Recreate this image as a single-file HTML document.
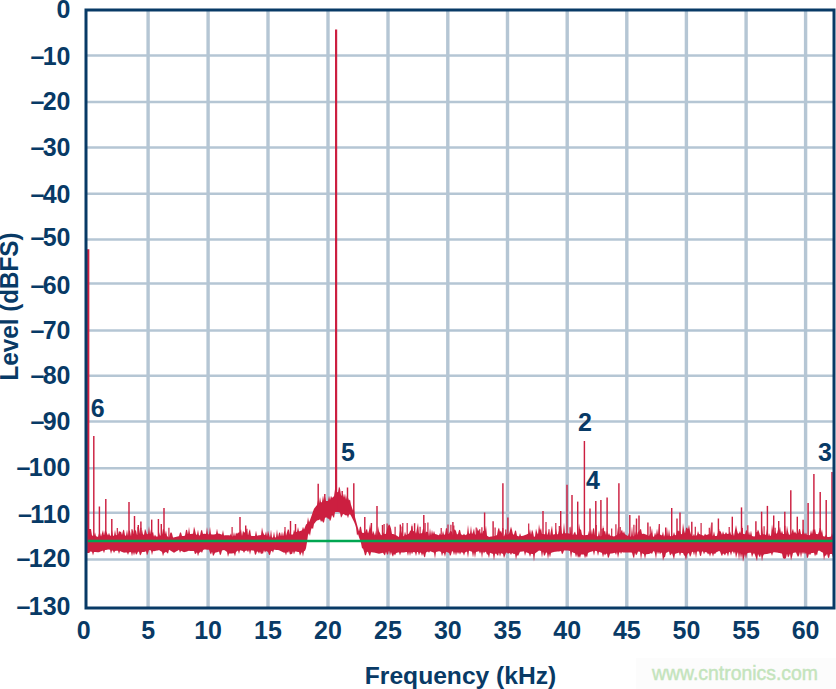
<!DOCTYPE html>
<html><head><meta charset="utf-8"><style>
html,body{margin:0;padding:0;background:#fff;}
svg{display:block;}
text{font-family:"Liberation Sans",sans-serif;}
</style></head><body>
<svg width="836" height="689" viewBox="0 0 836 689">
<rect width="836" height="689" fill="#fff"/>
<rect x="636" y="658" width="200" height="31" fill="#fcfcfc"/>
<line x1="148.1" y1="10" x2="148.1" y2="608" stroke="#b5c6d4" stroke-width="3.4"/>
<line x1="208.1" y1="10" x2="208.1" y2="608" stroke="#b5c6d4" stroke-width="3.4"/>
<line x1="268.0" y1="10" x2="268.0" y2="608" stroke="#b5c6d4" stroke-width="3.4"/>
<line x1="328.0" y1="10" x2="328.0" y2="608" stroke="#b5c6d4" stroke-width="3.4"/>
<line x1="388.0" y1="10" x2="388.0" y2="608" stroke="#b5c6d4" stroke-width="3.4"/>
<line x1="447.8" y1="10" x2="447.8" y2="608" stroke="#b5c6d4" stroke-width="3.4"/>
<line x1="507.5" y1="10" x2="507.5" y2="608" stroke="#b5c6d4" stroke-width="3.4"/>
<line x1="567.2" y1="10" x2="567.2" y2="608" stroke="#b5c6d4" stroke-width="3.4"/>
<line x1="626.8" y1="10" x2="626.8" y2="608" stroke="#b5c6d4" stroke-width="3.4"/>
<line x1="686.4" y1="10" x2="686.4" y2="608" stroke="#b5c6d4" stroke-width="3.4"/>
<line x1="746.1" y1="10" x2="746.1" y2="608" stroke="#b5c6d4" stroke-width="3.4"/>
<line x1="805.6" y1="10" x2="805.6" y2="608" stroke="#b5c6d4" stroke-width="3.4"/>
<line x1="86" y1="55.5" x2="834" y2="55.5" stroke="#b5c6d4" stroke-width="2.5"/>
<line x1="86" y1="102.1" x2="834" y2="102.1" stroke="#b5c6d4" stroke-width="2.5"/>
<line x1="86" y1="147.4" x2="834" y2="147.4" stroke="#b5c6d4" stroke-width="2.5"/>
<line x1="86" y1="193.8" x2="834" y2="193.8" stroke="#b5c6d4" stroke-width="2.5"/>
<line x1="86" y1="239.6" x2="834" y2="239.6" stroke="#b5c6d4" stroke-width="2.5"/>
<line x1="86" y1="283.4" x2="834" y2="283.4" stroke="#b5c6d4" stroke-width="2.5"/>
<line x1="86" y1="330.5" x2="834" y2="330.5" stroke="#b5c6d4" stroke-width="2.5"/>
<line x1="86" y1="375.8" x2="834" y2="375.8" stroke="#b5c6d4" stroke-width="2.5"/>
<line x1="86" y1="421.5" x2="834" y2="421.5" stroke="#b5c6d4" stroke-width="2.5"/>
<line x1="86" y1="468.3" x2="834" y2="468.3" stroke="#b5c6d4" stroke-width="2.5"/>
<line x1="86" y1="512.7" x2="834" y2="512.7" stroke="#b5c6d4" stroke-width="2.5"/>
<line x1="86" y1="559.4" x2="834" y2="559.4" stroke="#b5c6d4" stroke-width="2.5"/>
<g id="data"><polygon points="89.0,529.0 90.0,529.0 91.0,529.0 92.0,535.6 93.0,535.7 94.0,535.7 95.0,532.2 96.0,536.3 97.0,536.6 98.0,536.9 99.0,533.3 100.0,532.7 101.0,536.5 102.0,533.2 103.0,530.1 104.0,535.4 105.0,530.2 106.0,531.0 107.0,533.5 108.0,535.5 109.0,532.7 110.0,535.6 111.0,535.7 112.0,529.9 113.0,535.8 114.0,535.8 115.0,529.8 116.0,535.2 117.0,534.9 118.0,534.6 119.0,530.8 120.0,531.9 121.0,531.6 122.0,535.0 123.0,530.6 124.0,529.6 125.0,535.6 126.0,535.7 127.0,529.4 128.0,535.9 129.0,530.1 130.0,531.2 131.0,536.3 132.0,531.3 133.0,529.8 134.0,534.5 135.0,530.3 136.0,530.5 137.0,535.0 138.0,534.4 139.0,527.8 140.0,534.0 141.0,534.2 142.0,529.4 143.0,534.5 144.0,534.7 145.0,528.8 146.0,531.0 147.0,534.2 148.0,534.0 149.0,526.1 150.0,534.4 151.0,529.1 152.0,533.3 153.0,531.4 154.0,536.7 155.0,534.5 156.0,536.6 157.0,536.5 158.0,536.4 159.0,531.9 160.0,535.8 161.0,535.2 162.0,534.7 163.0,528.5 164.0,529.7 165.0,534.4 166.0,530.2 167.0,535.9 168.0,536.7 169.0,537.4 170.0,533.7 171.0,532.0 172.0,533.6 173.0,537.4 174.0,537.4 175.0,537.1 176.0,536.9 177.0,536.6 178.0,536.4 179.0,536.1 180.0,532.5 181.0,532.5 182.0,536.0 183.0,536.0 184.0,536.0 185.0,535.6 186.0,530.0 187.0,529.7 188.0,534.5 189.0,526.8 190.0,534.0 191.0,533.9 192.0,533.8 193.0,533.7 194.0,526.4 195.0,530.0 196.0,534.4 197.0,534.8 198.0,529.4 199.0,535.6 200.0,535.2 201.0,530.7 202.0,529.8 203.0,534.1 204.0,533.7 205.0,533.8 206.0,533.9 207.0,527.1 208.0,534.2 209.0,534.3 210.0,526.8 211.0,534.3 212.0,534.4 213.0,534.4 214.0,534.5 215.0,534.3 216.0,534.1 217.0,528.6 218.0,533.8 219.0,533.6 220.0,534.0 221.0,534.3 222.0,534.7 223.0,529.9 224.0,535.4 225.0,535.3 226.0,535.3 227.0,535.3 228.0,535.3 229.0,535.3 230.0,535.6 231.0,533.3 232.0,536.2 233.0,536.5 234.0,532.1 235.0,536.6 236.0,532.5 237.0,533.9 238.0,532.6 239.0,532.8 240.0,531.8 241.0,528.9 242.0,535.9 243.0,530.4 244.0,532.4 245.0,532.3 246.0,530.5 247.0,530.6 248.0,535.6 249.0,531.3 250.0,528.9 251.0,535.8 252.0,535.9 253.0,536.0 254.0,536.1 255.0,536.0 256.0,530.4 257.0,535.7 258.0,535.5 259.0,535.3 260.0,535.2 261.0,535.0 262.0,527.2 263.0,532.3 264.0,534.6 265.0,535.2 266.0,531.2 267.0,536.3 268.0,530.6 269.0,534.3 270.0,537.5 271.0,529.6 272.0,537.5 273.0,537.5 274.0,531.6 275.0,537.4 276.0,537.2 277.0,529.2 278.0,537.0 279.0,533.0 280.0,532.3 281.0,536.6 282.0,531.4 283.0,536.4 284.0,532.2 285.0,530.3 286.0,535.7 287.0,532.3 288.0,529.1 289.0,530.3 290.0,534.7 291.0,534.6 292.0,534.6 293.0,534.5 294.0,529.4 295.0,532.2 296.0,532.0 297.0,531.8 298.0,527.0 299.0,531.4 300.0,531.1 301.0,530.7 302.0,530.3 303.0,526.7 304.0,529.6 305.0,527.1 306.0,524.5 307.0,523.8 308.0,517.1 309.0,522.3 310.0,520.1 311.0,517.2 312.0,514.4 313.0,511.5 314.0,508.7 315.0,507.5 316.0,506.3 317.0,505.1 318.0,500.3 319.0,503.6 320.0,496.9 321.0,502.5 322.0,501.9 323.0,495.5 324.0,500.8 325.0,496.5 326.0,500.9 327.0,501.0 328.0,501.0 329.0,495.8 330.0,499.9 331.0,495.8 332.0,498.0 333.0,497.1 334.0,496.2 335.0,489.2 336.0,493.5 337.0,492.1 338.0,492.3 339.0,486.5 340.0,488.6 341.0,494.9 342.0,495.9 343.0,493.5 344.0,497.7 345.0,493.6 346.0,499.7 347.0,495.1 348.0,497.8 349.0,500.5 350.0,499.6 351.0,504.8 352.0,507.7 353.0,510.5 354.0,509.2 355.0,516.9 356.0,520.7 357.0,524.4 358.0,528.1 359.0,531.6 360.0,526.4 361.0,527.1 362.0,532.6 363.0,532.9 364.0,532.7 365.0,532.5 366.0,529.9 367.0,528.8 368.0,533.6 369.0,530.4 370.0,524.1 371.0,529.3 372.0,534.6 373.0,530.4 374.0,533.0 375.0,535.6 376.0,530.2 377.0,535.9 378.0,526.0 379.0,531.2 380.0,533.1 381.0,535.3 382.0,534.9 383.0,532.0 384.0,534.1 385.0,533.9 386.0,533.8 387.0,529.1 388.0,526.3 389.0,524.3 390.0,525.6 391.0,528.4 392.0,533.9 393.0,534.1 394.0,534.3 395.0,534.8 396.0,535.3 397.0,535.8 398.0,536.4 399.0,536.9 400.0,530.2 401.0,533.7 402.0,530.8 403.0,536.2 404.0,536.0 405.0,531.6 406.0,535.0 407.0,534.5 408.0,534.0 409.0,533.5 410.0,531.0 411.0,530.2 412.0,523.4 413.0,530.9 414.0,531.3 415.0,530.9 416.0,533.8 417.0,527.9 418.0,522.8 419.0,533.4 420.0,533.4 421.0,533.3 422.0,533.3 423.0,528.6 424.0,528.5 425.0,533.8 426.0,531.6 427.0,532.1 428.0,532.0 429.0,536.2 430.0,528.1 431.0,535.2 432.0,529.8 433.0,534.2 434.0,530.7 435.0,534.0 436.0,534.3 437.0,534.6 438.0,534.9 439.0,535.2 440.0,532.9 441.0,535.1 442.0,535.0 443.0,530.7 444.0,534.8 445.0,534.6 446.0,527.9 447.0,528.6 448.0,534.0 449.0,533.8 450.0,531.2 451.0,531.0 452.0,532.0 453.0,535.5 454.0,529.7 455.0,529.6 456.0,530.9 457.0,534.5 458.0,534.0 459.0,530.3 460.0,529.8 461.0,534.3 462.0,534.8 463.0,535.2 464.0,533.5 465.0,535.2 466.0,534.7 467.0,534.3 468.0,524.8 469.0,533.5 470.0,533.7 471.0,525.7 472.0,534.2 473.0,532.0 474.0,528.2 475.0,534.5 476.0,534.4 477.0,527.5 478.0,531.0 479.0,530.1 480.0,533.9 481.0,531.7 482.0,534.0 483.0,531.2 484.0,530.6 485.0,531.0 486.0,525.4 487.0,535.8 488.0,536.3 489.0,536.9 490.0,536.7 491.0,536.6 492.0,536.5 493.0,536.3 494.0,536.2 495.0,535.8 496.0,535.4 497.0,535.0 498.0,529.4 499.0,527.6 500.0,532.0 501.0,530.4 502.0,533.4 503.0,536.1 504.0,536.5 505.0,533.8 506.0,532.0 507.0,534.9 508.0,534.4 509.0,533.8 510.0,530.3 511.0,526.5 512.0,529.9 513.0,534.4 514.0,534.6 515.0,530.8 516.0,530.5 517.0,535.7 518.0,536.0 519.0,536.4 520.0,533.0 521.0,536.1 522.0,535.9 523.0,535.7 524.0,535.6 525.0,535.1 526.0,534.7 527.0,534.3 528.0,533.8 529.0,533.4 530.0,528.9 531.0,534.8 532.0,529.6 533.0,531.9 534.0,537.0 535.0,536.3 536.0,528.6 537.0,532.3 538.0,534.5 539.0,524.1 540.0,530.5 541.0,528.0 542.0,534.0 543.0,534.0 544.0,534.0 545.0,534.4 546.0,529.5 547.0,535.3 548.0,533.0 549.0,531.2 550.0,535.7 551.0,530.2 552.0,525.6 553.0,534.7 554.0,534.3 555.0,534.3 556.0,528.2 557.0,534.2 558.0,534.2 559.0,530.6 560.0,527.9 561.0,525.9 562.0,533.7 563.0,533.5 564.0,522.4 565.0,533.3 566.0,533.3 567.0,533.3 568.0,533.3 569.0,533.4 570.0,533.8 571.0,525.2 572.0,534.5 573.0,534.9 574.0,533.0 575.0,531.6 576.0,534.8 577.0,534.5 578.0,534.2 579.0,523.3 580.0,529.4 581.0,529.5 582.0,534.8 583.0,535.1 584.0,535.4 585.0,535.2 586.0,535.0 587.0,534.9 588.0,534.7 589.0,530.4 590.0,534.6 591.0,528.7 592.0,534.7 593.0,528.7 594.0,527.9 595.0,535.2 596.0,535.6 597.0,536.0 598.0,536.4 599.0,530.3 600.0,536.5 601.0,536.1 602.0,535.7 603.0,524.9 604.0,531.7 605.0,530.5 606.0,535.1 607.0,530.6 608.0,535.2 609.0,533.0 610.0,535.5 611.0,535.8 612.0,536.0 613.0,536.2 614.0,536.5 615.0,535.9 616.0,535.4 617.0,534.8 618.0,526.9 619.0,533.7 620.0,533.7 621.0,531.6 622.0,529.4 623.0,533.6 624.0,530.9 625.0,534.2 626.0,534.8 627.0,535.4 628.0,536.0 629.0,532.7 630.0,536.6 631.0,536.5 632.0,526.2 633.0,536.3 634.0,536.3 635.0,531.0 636.0,535.4 637.0,534.9 638.0,531.7 639.0,531.6 640.0,529.5 641.0,528.9 642.0,533.9 643.0,533.8 644.0,533.8 645.0,534.2 646.0,534.6 647.0,535.1 648.0,535.5 649.0,536.0 650.0,533.7 651.0,533.5 652.0,528.1 653.0,536.6 654.0,536.8 655.0,532.6 656.0,535.6 657.0,528.4 658.0,534.4 659.0,524.4 660.0,534.4 661.0,535.0 662.0,535.6 663.0,531.2 664.0,536.8 665.0,534.3 666.0,536.7 667.0,527.0 668.0,536.6 669.0,529.1 670.0,536.3 671.0,536.1 672.0,535.9 673.0,535.6 674.0,532.1 675.0,535.3 676.0,535.1 677.0,531.3 678.0,530.2 679.0,531.6 680.0,530.5 681.0,534.2 682.0,533.9 683.0,523.0 684.0,530.0 685.0,533.4 686.0,528.2 687.0,527.2 688.0,529.4 689.0,524.6 690.0,531.0 691.0,534.6 692.0,535.4 693.0,536.1 694.0,533.7 695.0,536.3 696.0,535.7 697.0,535.1 698.0,531.0 699.0,534.0 700.0,534.3 701.0,534.7 702.0,535.1 703.0,535.4 704.0,535.8 705.0,533.4 706.0,535.1 707.0,534.7 708.0,534.4 709.0,534.0 710.0,534.5 711.0,523.9 712.0,535.4 713.0,535.8 714.0,531.2 715.0,536.1 716.0,535.9 717.0,535.7 718.0,531.9 719.0,531.5 720.0,530.5 721.0,532.2 722.0,534.7 723.0,530.9 724.0,534.2 725.0,534.1 726.0,531.9 727.0,533.9 728.0,533.8 729.0,533.7 730.0,531.2 731.0,534.6 732.0,535.0 733.0,532.7 734.0,535.9 735.0,530.3 736.0,525.0 737.0,530.2 738.0,533.8 739.0,533.3 740.0,531.0 741.0,533.5 742.0,525.8 743.0,533.8 744.0,533.9 745.0,534.2 746.0,530.2 747.0,530.5 748.0,535.0 749.0,531.3 750.0,535.5 751.0,530.6 752.0,535.9 753.0,536.2 754.0,536.4 755.0,536.2 756.0,532.0 757.0,532.3 758.0,529.5 759.0,531.7 760.0,535.2 761.0,534.9 762.0,526.0 763.0,534.4 764.0,534.1 765.0,534.6 766.0,535.1 767.0,528.8 768.0,536.2 769.0,532.9 770.0,536.1 771.0,535.5 772.0,524.3 773.0,530.2 774.0,533.8 775.0,530.3 776.0,533.5 777.0,533.4 778.0,529.4 779.0,530.7 780.0,526.5 781.0,533.5 782.0,530.6 783.0,533.9 784.0,534.1 785.0,528.9 786.0,534.4 787.0,525.4 788.0,531.6 789.0,534.8 790.0,534.5 791.0,534.2 792.0,531.3 793.0,528.6 794.0,533.2 795.0,531.2 796.0,533.4 797.0,533.5 798.0,533.6 799.0,529.3 800.0,529.0 801.0,534.0 802.0,534.2 803.0,528.5 804.0,532.2 805.0,534.6 806.0,532.5 807.0,535.0 808.0,535.1 809.0,535.3 810.0,534.9 811.0,530.0 812.0,534.2 813.0,528.9 814.0,530.3 815.0,528.7 816.0,533.9 817.0,534.1 818.0,534.3 819.0,531.6 820.0,529.1 821.0,532.9 822.0,529.3 823.0,536.1 824.0,536.6 825.0,536.6 826.0,534.2 827.0,536.8 828.0,536.9 829.0,536.9 830.0,536.7 831.0,536.4 832.0,533.1 833.0,535.9 833.0,557.6 832.0,553.9 831.0,553.9 830.0,554.0 829.0,558.2 828.0,557.4 827.0,553.8 826.0,555.7 825.0,555.4 824.0,560.4 823.0,552.8 822.0,552.2 821.0,551.7 820.0,551.1 819.0,550.6 818.0,551.0 817.0,555.6 816.0,554.1 815.0,556.4 814.0,552.8 813.0,552.9 812.0,553.0 811.0,553.2 810.0,555.2 809.0,553.4 808.0,557.6 807.0,557.9 806.0,552.6 805.0,554.5 804.0,552.0 803.0,554.3 802.0,551.9 801.0,558.0 800.0,551.9 799.0,555.4 798.0,557.0 797.0,555.0 796.0,552.4 795.0,552.6 794.0,552.8 793.0,553.0 792.0,557.1 791.0,560.4 790.0,553.5 789.0,556.2 788.0,557.4 787.0,553.8 786.0,557.8 785.0,559.0 784.0,558.6 783.0,558.2 782.0,553.6 781.0,553.4 780.0,553.1 779.0,552.9 778.0,552.7 777.0,552.6 776.0,552.4 775.0,552.3 774.0,552.2 773.0,552.4 772.0,555.9 771.0,553.0 770.0,553.3 769.0,553.5 768.0,553.7 767.0,553.9 766.0,554.0 765.0,554.2 764.0,554.3 763.0,555.9 762.0,561.5 761.0,554.2 760.0,557.6 759.0,556.0 758.0,553.9 757.0,561.2 756.0,557.9 755.0,554.9 754.0,553.0 753.0,554.5 752.0,557.2 751.0,552.8 750.0,552.8 749.0,552.7 748.0,553.1 747.0,553.4 746.0,559.1 745.0,554.1 744.0,557.7 743.0,561.9 742.0,553.5 741.0,559.0 740.0,552.7 739.0,560.2 738.0,552.1 737.0,554.2 736.0,558.2 735.0,551.6 734.0,553.9 733.0,551.6 732.0,551.8 731.0,555.8 730.0,552.0 729.0,552.2 728.0,556.7 727.0,552.9 726.0,553.3 725.0,555.6 724.0,554.0 723.0,553.4 722.0,556.3 721.0,554.2 720.0,551.6 719.0,551.0 718.0,551.5 717.0,551.9 716.0,552.4 715.0,554.3 714.0,553.3 713.0,556.7 712.0,553.3 711.0,553.3 710.0,556.8 709.0,553.2 708.0,554.6 707.0,552.5 706.0,552.2 705.0,551.9 704.0,554.6 703.0,551.5 702.0,551.6 701.0,555.9 700.0,555.7 699.0,551.6 698.0,551.6 697.0,551.5 696.0,558.2 695.0,551.4 694.0,555.6 693.0,551.7 692.0,552.1 691.0,555.2 690.0,556.9 689.0,553.3 688.0,553.3 687.0,555.2 686.0,560.5 685.0,555.9 684.0,555.3 683.0,553.1 682.0,553.0 681.0,552.8 680.0,556.2 679.0,552.6 678.0,552.9 677.0,553.2 676.0,553.6 675.0,553.9 674.0,559.5 673.0,556.3 672.0,553.2 671.0,554.4 670.0,555.5 669.0,551.6 668.0,552.1 667.0,552.6 666.0,553.0 665.0,556.9 664.0,557.4 663.0,560.8 662.0,553.1 661.0,552.6 660.0,554.5 659.0,551.7 658.0,554.2 657.0,551.5 656.0,559.2 655.0,553.4 654.0,551.1 653.0,551.7 652.0,554.0 651.0,552.9 650.0,553.5 649.0,554.1 648.0,554.1 647.0,554.2 646.0,554.2 645.0,559.3 644.0,554.3 643.0,553.7 642.0,553.2 641.0,559.7 640.0,552.1 639.0,551.6 638.0,551.8 637.0,554.3 636.0,555.2 635.0,552.7 634.0,558.6 633.0,556.5 632.0,552.8 631.0,552.6 630.0,552.5 629.0,552.4 628.0,552.4 627.0,552.5 626.0,552.5 625.0,552.6 624.0,552.6 623.0,552.4 622.0,552.1 621.0,554.0 620.0,551.7 619.0,553.2 618.0,558.3 617.0,552.1 616.0,554.9 615.0,552.7 614.0,553.1 613.0,553.2 612.0,553.4 611.0,553.5 610.0,553.7 609.0,557.0 608.0,558.3 607.0,553.8 606.0,553.7 605.0,555.4 604.0,553.6 603.0,557.5 602.0,552.9 601.0,552.5 600.0,552.2 599.0,551.8 598.0,556.0 597.0,551.3 596.0,551.1 595.0,550.8 594.0,555.8 593.0,551.0 592.0,551.4 591.0,551.7 590.0,552.1 589.0,552.5 588.0,552.9 587.0,557.7 586.0,555.4 585.0,558.6 584.0,554.5 583.0,554.5 582.0,554.5 581.0,554.5 580.0,557.9 579.0,556.1 578.0,558.1 577.0,553.9 576.0,557.6 575.0,553.3 574.0,553.0 573.0,552.5 572.0,552.0 571.0,558.8 570.0,551.1 569.0,550.7 568.0,550.6 567.0,550.6 566.0,550.6 565.0,550.6 564.0,550.5 563.0,553.3 562.0,554.2 561.0,551.1 560.0,551.3 559.0,551.5 558.0,551.5 557.0,551.6 556.0,551.7 555.0,551.8 554.0,551.9 553.0,552.2 552.0,552.6 551.0,552.9 550.0,557.4 549.0,553.6 548.0,559.3 547.0,552.8 546.0,552.4 545.0,555.2 544.0,555.7 543.0,551.4 542.0,557.7 541.0,550.9 540.0,550.7 539.0,550.5 538.0,551.3 537.0,552.0 536.0,552.7 535.0,553.4 534.0,561.8 533.0,554.0 532.0,553.9 531.0,553.8 530.0,557.1 529.0,553.5 528.0,553.0 527.0,552.6 526.0,552.2 525.0,555.9 524.0,551.3 523.0,551.4 522.0,551.5 521.0,551.7 520.0,551.8 519.0,554.1 518.0,555.9 517.0,554.9 516.0,560.0 515.0,553.7 514.0,554.2 513.0,553.6 512.0,553.0 511.0,554.9 510.0,553.3 509.0,553.1 508.0,554.1 507.0,552.4 506.0,553.1 505.0,555.5 504.0,558.2 503.0,553.9 502.0,553.6 501.0,553.2 500.0,556.7 499.0,552.4 498.0,555.9 497.0,554.7 496.0,553.6 495.0,554.0 494.0,560.6 493.0,553.9 492.0,553.6 491.0,553.2 490.0,552.8 489.0,558.3 488.0,554.5 487.0,554.4 486.0,551.9 485.0,551.8 484.0,553.5 483.0,551.6 482.0,558.3 481.0,551.5 480.0,553.7 479.0,551.3 478.0,551.5 477.0,551.7 476.0,551.9 475.0,558.1 474.0,552.3 473.0,557.4 472.0,551.7 471.0,551.4 470.0,551.0 469.0,550.7 468.0,557.9 467.0,551.6 466.0,552.1 465.0,552.6 464.0,555.8 463.0,552.8 462.0,552.6 461.0,552.3 460.0,554.8 459.0,551.9 458.0,553.9 457.0,551.8 456.0,555.8 455.0,551.7 454.0,555.3 453.0,551.4 452.0,551.2 451.0,554.7 450.0,555.9 449.0,552.8 448.0,552.8 447.0,551.7 446.0,552.2 445.0,556.9 444.0,553.3 443.0,552.9 442.0,556.2 441.0,552.0 440.0,551.6 439.0,551.2 438.0,551.5 437.0,551.8 436.0,552.1 435.0,558.8 434.0,552.7 433.0,552.3 432.0,552.0 431.0,551.6 430.0,551.3 429.0,552.8 428.0,551.4 427.0,552.0 426.0,552.5 425.0,557.5 424.0,556.4 423.0,553.3 422.0,556.1 421.0,552.7 420.0,552.4 419.0,555.6 418.0,552.1 417.0,552.1 416.0,556.2 415.0,552.2 414.0,552.2 413.0,552.0 412.0,554.2 411.0,551.7 410.0,556.0 409.0,551.4 408.0,556.1 407.0,551.9 406.0,552.1 405.0,552.3 404.0,552.6 403.0,552.5 402.0,552.4 401.0,552.4 400.0,555.6 399.0,552.2 398.0,552.5 397.0,552.8 396.0,553.2 395.0,555.5 394.0,553.8 393.0,556.8 392.0,555.1 391.0,551.9 390.0,555.7 389.0,550.6 388.0,554.6 387.0,554.4 386.0,551.7 385.0,555.4 384.0,554.4 383.0,552.7 382.0,553.0 381.0,553.2 380.0,553.5 379.0,553.7 378.0,553.5 377.0,553.3 376.0,553.0 375.0,552.8 374.0,552.5 373.0,552.4 372.0,552.3 371.0,552.2 370.0,556.3 369.0,554.6 368.0,551.9 367.0,551.7 366.0,555.0 365.0,555.6 364.0,551.4 363.0,548.6 362.0,548.2 361.0,542.9 360.0,540.1 359.0,537.2 358.0,534.1 357.0,535.5 356.0,527.6 355.0,524.3 354.0,521.8 353.0,519.8 352.0,517.8 351.0,515.8 350.0,514.3 349.0,514.7 348.0,518.3 347.0,515.2 346.0,515.4 345.0,515.0 344.0,514.3 343.0,513.9 342.0,516.3 341.0,517.7 340.0,512.7 339.0,512.3 338.0,512.1 337.0,511.9 336.0,511.7 335.0,512.3 334.0,518.1 333.0,516.8 332.0,515.1 331.0,519.3 330.0,521.2 329.0,518.6 328.0,519.0 327.0,517.5 326.0,517.6 325.0,517.7 324.0,522.5 323.0,522.6 322.0,520.6 321.0,522.1 320.0,519.3 319.0,519.9 318.0,520.2 317.0,520.5 316.0,521.5 315.0,522.8 314.0,524.0 313.0,529.2 312.0,527.8 311.0,529.7 310.0,535.9 309.0,533.3 308.0,534.9 307.0,542.2 306.0,548.2 305.0,550.7 304.0,551.3 303.0,556.7 302.0,552.0 301.0,553.5 300.0,555.7 299.0,552.1 298.0,551.9 297.0,551.7 296.0,551.5 295.0,551.4 294.0,554.4 293.0,551.2 292.0,554.3 291.0,553.7 290.0,554.7 289.0,551.1 288.0,553.1 287.0,551.8 286.0,555.5 285.0,552.4 284.0,552.8 283.0,552.2 282.0,551.7 281.0,551.2 280.0,550.7 279.0,550.2 278.0,550.1 277.0,550.0 276.0,549.9 275.0,549.8 274.0,549.7 273.0,552.7 272.0,550.7 271.0,551.3 270.0,555.0 269.0,554.7 268.0,551.9 267.0,551.4 266.0,551.0 265.0,552.7 264.0,550.2 263.0,553.7 262.0,553.2 261.0,554.3 260.0,551.6 259.0,553.7 258.0,551.7 257.0,551.5 256.0,554.4 255.0,554.7 254.0,550.8 253.0,550.6 252.0,550.5 251.0,550.3 250.0,554.7 249.0,550.0 248.0,552.3 247.0,550.5 246.0,550.7 245.0,551.0 244.0,552.9 243.0,550.9 242.0,550.7 241.0,550.4 240.0,550.2 239.0,554.0 238.0,550.6 237.0,551.3 236.0,552.0 235.0,556.5 234.0,553.3 233.0,553.3 232.0,553.4 231.0,553.4 230.0,553.4 229.0,553.4 228.0,557.1 227.0,552.0 226.0,551.3 225.0,550.6 224.0,549.9 223.0,550.2 222.0,550.5 221.0,554.2 220.0,555.2 219.0,551.5 218.0,551.9 217.0,552.2 216.0,552.5 215.0,552.8 214.0,555.0 213.0,555.9 212.0,551.8 211.0,554.5 210.0,553.0 209.0,549.7 208.0,549.7 207.0,549.7 206.0,549.6 205.0,549.6 204.0,549.6 203.0,550.2 202.0,553.0 201.0,551.6 200.0,552.2 199.0,552.9 198.0,556.2 197.0,552.2 196.0,553.4 195.0,554.3 194.0,551.1 193.0,551.1 192.0,551.0 191.0,551.0 190.0,550.9 189.0,550.8 188.0,551.1 187.0,551.4 186.0,551.7 185.0,552.0 184.0,552.2 183.0,551.8 182.0,551.3 181.0,550.8 180.0,552.9 179.0,549.8 178.0,550.4 177.0,551.0 176.0,551.6 175.0,552.2 174.0,552.8 173.0,552.2 172.0,551.6 171.0,551.0 170.0,550.3 169.0,549.7 168.0,553.7 167.0,552.7 166.0,551.8 165.0,552.4 164.0,553.1 163.0,556.3 162.0,551.9 161.0,551.3 160.0,550.7 159.0,550.1 158.0,550.4 157.0,550.6 156.0,550.8 155.0,551.0 154.0,551.3 153.0,551.0 152.0,555.2 151.0,550.6 150.0,550.3 149.0,550.1 148.0,553.3 147.0,555.4 146.0,551.3 145.0,551.7 144.0,552.1 143.0,552.1 142.0,552.0 141.0,554.4 140.0,555.6 139.0,551.7 138.0,551.8 137.0,553.9 136.0,554.8 135.0,551.9 134.0,555.4 133.0,552.0 132.0,556.2 131.0,552.1 130.0,552.2 129.0,552.3 128.0,554.9 127.0,552.5 126.0,552.5 125.0,552.6 124.0,552.7 123.0,552.3 122.0,551.9 121.0,551.5 120.0,551.0 119.0,554.1 118.0,550.7 117.0,550.8 116.0,550.8 115.0,550.9 114.0,553.1 113.0,550.7 112.0,550.4 111.0,554.0 110.0,549.8 109.0,549.5 108.0,549.6 107.0,549.8 106.0,549.9 105.0,550.0 104.0,553.2 103.0,550.5 102.0,550.9 101.0,551.3 100.0,551.7 99.0,552.2 98.0,552.2 97.0,552.2 96.0,552.1 95.0,552.1 94.0,552.1 93.0,555.5 92.0,551.8 91.0,551.7 90.0,551.5 89.0,553.0" fill="#cc1f40"/>
<line x1="117.3" y1="527.9" x2="117.3" y2="538.2" stroke="#cc1f40" stroke-width="1.2"/>
<line x1="132.0" y1="529.3" x2="132.0" y2="539.3" stroke="#cc1f40" stroke-width="1.2"/>
<line x1="138.0" y1="526.9" x2="138.0" y2="538.0" stroke="#cc1f40" stroke-width="1.2"/>
<line x1="140.9" y1="527.8" x2="140.9" y2="537.2" stroke="#cc1f40" stroke-width="1.2"/>
<line x1="168.9" y1="527.8" x2="168.9" y2="540.4" stroke="#cc1f40" stroke-width="1.2"/>
<line x1="232.1" y1="527.0" x2="232.1" y2="539.5" stroke="#cc1f40" stroke-width="1.2"/>
<line x1="246.9" y1="528.7" x2="246.9" y2="538.6" stroke="#cc1f40" stroke-width="1.2"/>
<line x1="285.0" y1="526.9" x2="285.0" y2="538.7" stroke="#cc1f40" stroke-width="1.2"/>
<line x1="384.1" y1="524.1" x2="384.1" y2="537.1" stroke="#cc1f40" stroke-width="1.2"/>
<line x1="387.1" y1="523.4" x2="387.1" y2="536.8" stroke="#cc1f40" stroke-width="1.2"/>
<line x1="395.1" y1="526.8" x2="395.1" y2="538.3" stroke="#cc1f40" stroke-width="1.2"/>
<line x1="402.1" y1="526.5" x2="402.1" y2="539.2" stroke="#cc1f40" stroke-width="1.2"/>
<line x1="402.8" y1="523.1" x2="402.8" y2="539.2" stroke="#cc1f40" stroke-width="1.2"/>
<line x1="407.2" y1="523.0" x2="407.2" y2="538.0" stroke="#cc1f40" stroke-width="1.2"/>
<line x1="411.9" y1="526.3" x2="411.9" y2="533.9" stroke="#cc1f40" stroke-width="1.2"/>
<line x1="420.1" y1="526.7" x2="420.1" y2="536.4" stroke="#cc1f40" stroke-width="1.2"/>
<line x1="425.1" y1="523.0" x2="425.1" y2="536.8" stroke="#cc1f40" stroke-width="1.2"/>
<line x1="427.9" y1="522.6" x2="427.9" y2="539.2" stroke="#cc1f40" stroke-width="1.2"/>
<line x1="441.2" y1="527.9" x2="441.2" y2="538.1" stroke="#cc1f40" stroke-width="1.2"/>
<line x1="448.0" y1="524.4" x2="448.0" y2="537.0" stroke="#cc1f40" stroke-width="1.2"/>
<line x1="450.9" y1="524.8" x2="450.9" y2="535.0" stroke="#cc1f40" stroke-width="1.2"/>
<line x1="453.8" y1="525.5" x2="453.8" y2="538.5" stroke="#cc1f40" stroke-width="1.2"/>
<line x1="476.2" y1="527.5" x2="476.2" y2="537.5" stroke="#cc1f40" stroke-width="1.2"/>
<line x1="479.7" y1="529.2" x2="479.7" y2="536.9" stroke="#cc1f40" stroke-width="1.2"/>
<line x1="481.9" y1="527.2" x2="481.9" y2="537.0" stroke="#cc1f40" stroke-width="1.2"/>
<line x1="495.1" y1="527.6" x2="495.1" y2="539.2" stroke="#cc1f40" stroke-width="1.2"/>
<line x1="502.8" y1="528.1" x2="502.8" y2="539.5" stroke="#cc1f40" stroke-width="1.2"/>
<line x1="505.8" y1="529.5" x2="505.8" y2="537.9" stroke="#cc1f40" stroke-width="1.2"/>
<line x1="528.7" y1="523.6" x2="528.7" y2="536.8" stroke="#cc1f40" stroke-width="1.2"/>
<line x1="546.0" y1="522.1" x2="546.0" y2="538.3" stroke="#cc1f40" stroke-width="1.2"/>
<line x1="549.0" y1="529.3" x2="549.0" y2="538.7" stroke="#cc1f40" stroke-width="1.2"/>
<line x1="555.8" y1="523.1" x2="555.8" y2="537.3" stroke="#cc1f40" stroke-width="1.2"/>
<line x1="559.3" y1="526.1" x2="559.3" y2="537.2" stroke="#cc1f40" stroke-width="1.2"/>
<line x1="570.0" y1="527.3" x2="570.0" y2="536.8" stroke="#cc1f40" stroke-width="1.2"/>
<line x1="596.2" y1="525.1" x2="596.2" y2="539.0" stroke="#cc1f40" stroke-width="1.2"/>
<line x1="602.0" y1="528.8" x2="602.0" y2="539.1" stroke="#cc1f40" stroke-width="1.2"/>
<line x1="603.3" y1="527.9" x2="603.3" y2="538.7" stroke="#cc1f40" stroke-width="1.2"/>
<line x1="611.7" y1="528.6" x2="611.7" y2="539.2" stroke="#cc1f40" stroke-width="1.2"/>
<line x1="615.9" y1="524.3" x2="615.9" y2="538.9" stroke="#cc1f40" stroke-width="1.2"/>
<line x1="620.2" y1="526.9" x2="620.2" y2="536.7" stroke="#cc1f40" stroke-width="1.2"/>
<line x1="633.9" y1="524.7" x2="633.9" y2="539.3" stroke="#cc1f40" stroke-width="1.2"/>
<line x1="636.3" y1="525.2" x2="636.3" y2="538.4" stroke="#cc1f40" stroke-width="1.2"/>
<line x1="650.2" y1="526.4" x2="650.2" y2="539.0" stroke="#cc1f40" stroke-width="1.2"/>
<line x1="659.3" y1="524.1" x2="659.3" y2="537.4" stroke="#cc1f40" stroke-width="1.2"/>
<line x1="695.3" y1="526.7" x2="695.3" y2="539.3" stroke="#cc1f40" stroke-width="1.2"/>
<line x1="701.1" y1="522.9" x2="701.1" y2="538.1" stroke="#cc1f40" stroke-width="1.2"/>
<line x1="709.3" y1="527.7" x2="709.3" y2="537.5" stroke="#cc1f40" stroke-width="1.2"/>
<line x1="718.7" y1="529.0" x2="718.7" y2="534.9" stroke="#cc1f40" stroke-width="1.2"/>
<line x1="729.2" y1="526.9" x2="729.2" y2="536.8" stroke="#cc1f40" stroke-width="1.2"/>
<line x1="742.3" y1="528.1" x2="742.3" y2="536.8" stroke="#cc1f40" stroke-width="1.2"/>
<line x1="747.8" y1="525.3" x2="747.8" y2="538.0" stroke="#cc1f40" stroke-width="1.2"/>
<line x1="764.1" y1="526.3" x2="764.1" y2="537.6" stroke="#cc1f40" stroke-width="1.2"/>
<line x1="775.1" y1="527.7" x2="775.1" y2="536.8" stroke="#cc1f40" stroke-width="1.2"/>
<line x1="784.8" y1="525.7" x2="784.8" y2="537.4" stroke="#cc1f40" stroke-width="1.2"/>
<line x1="820.2" y1="527.9" x2="820.2" y2="535.9" stroke="#cc1f40" stroke-width="1.2"/>
<line x1="93.8" y1="436" x2="93.8" y2="538.7" stroke="#cc1f40" stroke-width="1.45"/>
<line x1="99.4" y1="506.5" x2="99.4" y2="539.9" stroke="#cc1f40" stroke-width="1.45"/>
<line x1="105.8" y1="499" x2="105.8" y2="536.5" stroke="#cc1f40" stroke-width="1.45"/>
<line x1="111.8" y1="519" x2="111.8" y2="538.8" stroke="#cc1f40" stroke-width="1.45"/>
<line x1="129" y1="502" x2="129" y2="538.9" stroke="#cc1f40" stroke-width="1.45"/>
<line x1="134.5" y1="516" x2="134.5" y2="537.5" stroke="#cc1f40" stroke-width="1.45"/>
<line x1="138.3" y1="525" x2="138.3" y2="538.0" stroke="#cc1f40" stroke-width="1.45"/>
<line x1="140.9" y1="521.5" x2="140.9" y2="537.2" stroke="#cc1f40" stroke-width="1.45"/>
<line x1="151.7" y1="519.6" x2="151.7" y2="536.3" stroke="#cc1f40" stroke-width="1.45"/>
<line x1="158.4" y1="519" x2="158.4" y2="539.5" stroke="#cc1f40" stroke-width="1.45"/>
<line x1="161.3" y1="524" x2="161.3" y2="538.8" stroke="#cc1f40" stroke-width="1.45"/>
<line x1="164" y1="508" x2="164" y2="537.4" stroke="#cc1f40" stroke-width="1.45"/>
<line x1="240" y1="516.9" x2="240" y2="535.8" stroke="#cc1f40" stroke-width="1.45"/>
<line x1="245.7" y1="525.5" x2="245.7" y2="535.3" stroke="#cc1f40" stroke-width="1.45"/>
<line x1="290.5" y1="521" x2="290.5" y2="537.7" stroke="#cc1f40" stroke-width="1.45"/>
<line x1="295.5" y1="524" x2="295.5" y2="535.2" stroke="#cc1f40" stroke-width="1.45"/>
<line x1="318.2" y1="483.8" x2="318.2" y2="508.1" stroke="#cc1f40" stroke-width="1.45"/>
<line x1="324.8" y1="494" x2="324.8" y2="503.9" stroke="#cc1f40" stroke-width="1.45"/>
<line x1="342.2" y1="491" x2="342.2" y2="498.9" stroke="#cc1f40" stroke-width="1.45"/>
<line x1="347.5" y1="487.5" x2="347.5" y2="502.7" stroke="#cc1f40" stroke-width="1.45"/>
<line x1="353.8" y1="483.2" x2="353.8" y2="519.9" stroke="#cc1f40" stroke-width="1.45"/>
<line x1="364.8" y1="517" x2="364.8" y2="535.7" stroke="#cc1f40" stroke-width="1.45"/>
<line x1="371.4" y1="523" x2="371.4" y2="537.6" stroke="#cc1f40" stroke-width="1.45"/>
<line x1="377" y1="506" x2="377" y2="538.9" stroke="#cc1f40" stroke-width="1.45"/>
<line x1="382.5" y1="525" x2="382.5" y2="538.3" stroke="#cc1f40" stroke-width="1.45"/>
<line x1="400.3" y1="524.5" x2="400.3" y2="539.9" stroke="#cc1f40" stroke-width="1.45"/>
<line x1="414.6" y1="523.2" x2="414.6" y2="536.8" stroke="#cc1f40" stroke-width="1.45"/>
<line x1="423.8" y1="515" x2="423.8" y2="536.8" stroke="#cc1f40" stroke-width="1.45"/>
<line x1="452.9" y1="522" x2="452.9" y2="538.5" stroke="#cc1f40" stroke-width="1.45"/>
<line x1="484.6" y1="512.5" x2="484.6" y2="534.0" stroke="#cc1f40" stroke-width="1.45"/>
<line x1="493.1" y1="521.3" x2="493.1" y2="539.5" stroke="#cc1f40" stroke-width="1.45"/>
<line x1="502.9" y1="483.3" x2="502.9" y2="539.5" stroke="#cc1f40" stroke-width="1.45"/>
<line x1="507.9" y1="517.5" x2="507.9" y2="537.9" stroke="#cc1f40" stroke-width="1.45"/>
<line x1="543" y1="511" x2="543" y2="537.0" stroke="#cc1f40" stroke-width="1.45"/>
<line x1="560.7" y1="511" x2="560.7" y2="536.7" stroke="#cc1f40" stroke-width="1.45"/>
<line x1="567" y1="484.8" x2="567" y2="536.3" stroke="#cc1f40" stroke-width="1.45"/>
<line x1="572" y1="495" x2="572" y2="537.9" stroke="#cc1f40" stroke-width="1.45"/>
<line x1="577.7" y1="501.6" x2="577.7" y2="537.5" stroke="#cc1f40" stroke-width="1.45"/>
<line x1="584.4" y1="441" x2="584.4" y2="538.4" stroke="#cc1f40" stroke-width="1.45"/>
<line x1="590" y1="508.4" x2="590" y2="537.6" stroke="#cc1f40" stroke-width="1.45"/>
<line x1="595.8" y1="501" x2="595.8" y2="539.0" stroke="#cc1f40" stroke-width="1.45"/>
<line x1="600.9" y1="500" x2="600.9" y2="539.5" stroke="#cc1f40" stroke-width="1.45"/>
<line x1="607.1" y1="497.4" x2="607.1" y2="538.2" stroke="#cc1f40" stroke-width="1.45"/>
<line x1="618.9" y1="483.3" x2="618.9" y2="536.7" stroke="#cc1f40" stroke-width="1.45"/>
<line x1="629.8" y1="515" x2="629.8" y2="539.6" stroke="#cc1f40" stroke-width="1.45"/>
<line x1="636.5" y1="518.5" x2="636.5" y2="538.4" stroke="#cc1f40" stroke-width="1.45"/>
<line x1="639" y1="515.5" x2="639" y2="534.7" stroke="#cc1f40" stroke-width="1.45"/>
<line x1="647.9" y1="522.5" x2="647.9" y2="539.0" stroke="#cc1f40" stroke-width="1.45"/>
<line x1="665.7" y1="527.5" x2="665.7" y2="539.7" stroke="#cc1f40" stroke-width="1.45"/>
<line x1="671.7" y1="508" x2="671.7" y2="539.1" stroke="#cc1f40" stroke-width="1.45"/>
<line x1="677" y1="518.5" x2="677" y2="538.1" stroke="#cc1f40" stroke-width="1.45"/>
<line x1="680" y1="512.4" x2="680" y2="537.2" stroke="#cc1f40" stroke-width="1.45"/>
<line x1="691.8" y1="521.7" x2="691.8" y2="539.1" stroke="#cc1f40" stroke-width="1.45"/>
<line x1="711.9" y1="522.5" x2="711.9" y2="538.8" stroke="#cc1f40" stroke-width="1.45"/>
<line x1="718.4" y1="518.5" x2="718.4" y2="538.7" stroke="#cc1f40" stroke-width="1.45"/>
<line x1="732.3" y1="516.7" x2="732.3" y2="538.0" stroke="#cc1f40" stroke-width="1.45"/>
<line x1="741.5" y1="507.4" x2="741.5" y2="536.5" stroke="#cc1f40" stroke-width="1.45"/>
<line x1="755.9" y1="521.2" x2="755.9" y2="539.2" stroke="#cc1f40" stroke-width="1.45"/>
<line x1="761.6" y1="511.7" x2="761.6" y2="537.9" stroke="#cc1f40" stroke-width="1.45"/>
<line x1="767.4" y1="505.9" x2="767.4" y2="539.2" stroke="#cc1f40" stroke-width="1.45"/>
<line x1="773.7" y1="515.5" x2="773.7" y2="536.8" stroke="#cc1f40" stroke-width="1.45"/>
<line x1="778.7" y1="521" x2="778.7" y2="533.7" stroke="#cc1f40" stroke-width="1.45"/>
<line x1="784.8" y1="511.7" x2="784.8" y2="537.4" stroke="#cc1f40" stroke-width="1.45"/>
<line x1="790.8" y1="490.3" x2="790.8" y2="537.5" stroke="#cc1f40" stroke-width="1.45"/>
<line x1="797.3" y1="516.7" x2="797.3" y2="536.6" stroke="#cc1f40" stroke-width="1.45"/>
<line x1="803.1" y1="519.7" x2="803.1" y2="537.2" stroke="#cc1f40" stroke-width="1.45"/>
<line x1="808.1" y1="502.9" x2="808.1" y2="538.3" stroke="#cc1f40" stroke-width="1.45"/>
<line x1="813.9" y1="474" x2="813.9" y2="533.3" stroke="#cc1f40" stroke-width="1.45"/>
<line x1="820.2" y1="492" x2="820.2" y2="535.9" stroke="#cc1f40" stroke-width="1.45"/>
<line x1="826.2" y1="500" x2="826.2" y2="539.8" stroke="#cc1f40" stroke-width="1.45"/>
<line x1="832" y1="472" x2="832" y2="539.4" stroke="#cc1f40" stroke-width="1.45"/>
<line x1="336.1" y1="29.6" x2="336.1" y2="512" stroke="#cc1f40" stroke-width="2.2"/>
<line x1="88.2" y1="249.3" x2="88.2" y2="553" stroke="#cc1f40" stroke-width="2.3"/>
<line x1="88" y1="541" x2="833" y2="541" stroke="#00a651" stroke-width="2.7"/></g>
<rect x="86" y="10" width="748" height="598" fill="none" stroke="#083a66" stroke-width="3"/>
<g fill="#083a66" font-weight="bold" font-size="25">
<text x="70.5" y="17.9" text-anchor="end">0</text>
<text x="70.5" y="64.6" text-anchor="end"><tspan>–</tspan><tspan dx="-1.7">10</tspan></text>
<text x="70.5" y="110" text-anchor="end"><tspan>–</tspan><tspan dx="-1.7">20</tspan></text>
<text x="70.5" y="156.2" text-anchor="end"><tspan>–</tspan><tspan dx="-1.7">30</tspan></text>
<text x="70.5" y="203" text-anchor="end"><tspan>–</tspan><tspan dx="-1.7">40</tspan></text>
<text x="70.5" y="246.4" text-anchor="end"><tspan>–</tspan><tspan dx="-1.7">50</tspan></text>
<text x="70.5" y="293.5" text-anchor="end"><tspan>–</tspan><tspan dx="-1.7">60</tspan></text>
<text x="70.5" y="339.4" text-anchor="end"><tspan>–</tspan><tspan dx="-1.7">70</tspan></text>
<text x="70.5" y="384.2" text-anchor="end"><tspan>–</tspan><tspan dx="-1.7">80</tspan></text>
<text x="70.5" y="430.4" text-anchor="end"><tspan>–</tspan><tspan dx="-1.7">90</tspan></text>
<text x="70.5" y="475.5" text-anchor="end"><tspan>–</tspan><tspan dx="-1.7">100</tspan></text>
<text x="70.5" y="523.3" text-anchor="end"><tspan>–</tspan><tspan dx="-1.7">110</tspan></text>
<text x="70.5" y="567.4" text-anchor="end"><tspan>–</tspan><tspan dx="-1.7">120</tspan></text>
<text x="70.5" y="615" text-anchor="end"><tspan>–</tspan><tspan dx="-1.7">130</tspan></text>
<text x="83.7" y="638.5" text-anchor="middle">0</text>
<text x="148.1" y="638.5" text-anchor="middle">5</text>
<text x="208.1" y="638.5" text-anchor="middle">10</text>
<text x="268.0" y="638.5" text-anchor="middle">15</text>
<text x="328.0" y="638.5" text-anchor="middle">20</text>
<text x="388.0" y="638.5" text-anchor="middle">25</text>
<text x="447.8" y="638.5" text-anchor="middle">30</text>
<text x="507.5" y="638.5" text-anchor="middle">35</text>
<text x="567.2" y="638.5" text-anchor="middle">40</text>
<text x="626.8" y="638.5" text-anchor="middle">45</text>
<text x="686.4" y="638.5" text-anchor="middle">50</text>
<text x="746.1" y="638.5" text-anchor="middle">55</text>
<text x="805.6" y="638.5" text-anchor="middle">60</text>
</g>
<g fill="#083a66" font-weight="bold" font-size="25"><text x="90.8" y="417">6</text><text x="341" y="461">5</text><text x="578" y="431">2</text><text x="586" y="488.7">4</text><text x="818" y="461">3</text></g>
<text x="364.8" y="683.6" fill="#083a66" font-weight="bold" font-size="24.6" textLength="191.5" lengthAdjust="spacingAndGlyphs">Frequency (kHz)</text>
<text transform="translate(18,380.5) rotate(-90)" fill="#083a66" font-weight="bold" font-size="25.5" textLength="148" lengthAdjust="spacingAndGlyphs">Level (dBFS)</text>
<text x="652" y="680.1" fill="#c4e4bc" stroke="#c4e4bc" stroke-width="0.45" font-size="19.4">www.cntronics.com</text>
</svg>
</body></html>
